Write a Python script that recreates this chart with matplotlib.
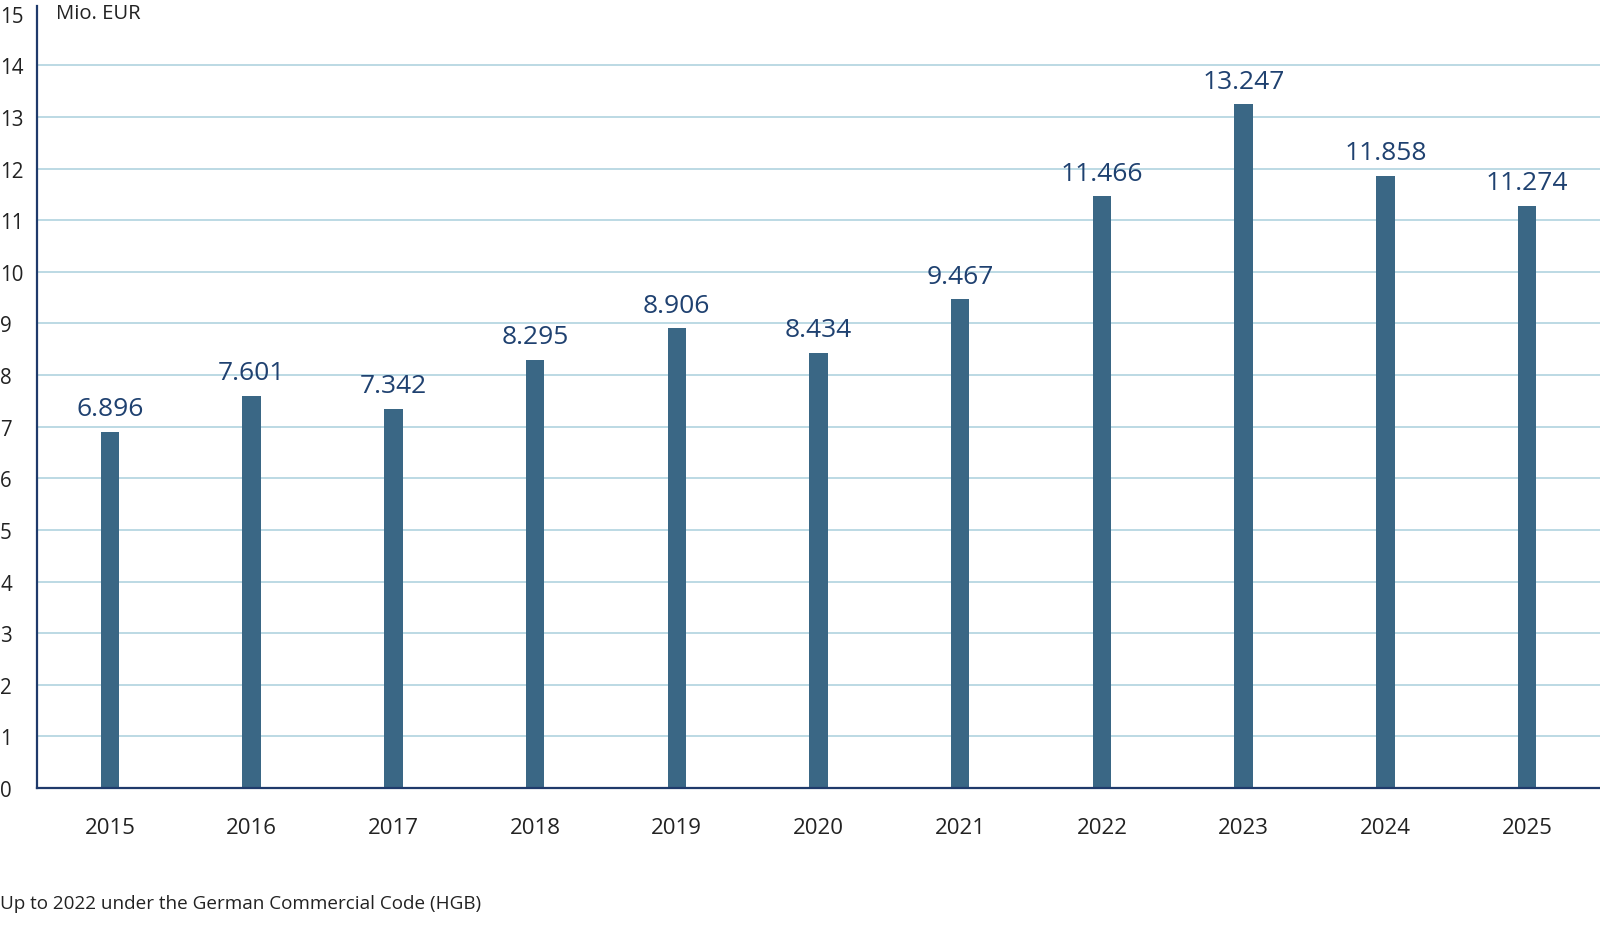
import matplotlib
matplotlib.use("Agg")
import matplotlib.pyplot as plt

years = ["2015", "2016", "2017", "2018", "2019", "2020", "2021", "2022", "2023", "2024", "2025"]
values = [6.896, 7.601, 7.342, 8.295, 8.906, 8.434, 9.467, 11.466, 13.247, 11.858, 11.274]
labels = ["6.896", "7.601", "7.342", "8.295", "8.906", "8.434", "9.467", "11.466", "13.247", "11.858", "11.274"]
yticks = list(range(0, 16))

plt.rcParams['font.family'] = ['Open Sans', 'DejaVu Sans']

fig = plt.figure(figsize=(16, 9.29), dpi=100)
ax = fig.add_axes([37/1600, 1 - 789/929, 1 - 37/1600, (789 - 14.8)/929])

x = list(range(len(years)))
ax.bar(x, values, width=0.13, color='#3a6785', zorder=3)

for xi, v, lab in zip(x, values, labels):
    ax.annotate(lab, (xi, v), xytext=(0, 12), textcoords='offset points',
                ha='center', va='baseline', fontsize=19, color='#1f4170')

ax.set_xlim(-0.515, 10.515)
ax.set_ylim(0, 15)
for g in range(1, 15):
    ax.axhline(g, color='#a9cfdc', lw=1.1, zorder=1)

ax.set_xticks(x)
ax.set_xticklabels(years, fontsize=16, color='#222222')
ax.set_yticks(yticks)
ax.set_yticklabels([str(t) for t in yticks], fontsize=14.8, color='#222222')
ax.tick_params(axis='x', length=0, pad=21)
ax.tick_params(axis='y', length=0, pad=26.6)
for t in ax.get_yticklabels():
    t.set_horizontalalignment('left')
for t in ax.get_xticklabels():
    t.set_fontstretch('expanded')

for s in ['top', 'right']:
    ax.spines[s].set_visible(False)
ax.spines['left'].set_color('#1f3a6b')
ax.spines['left'].set_linewidth(1.6)
ax.spines['bottom'].set_color('#1f3a6b')
ax.spines['bottom'].set_linewidth(1.6)
ax.spines['left'].set_bounds(0, 15.15)
ax.spines['left'].set_zorder(4)
ax.spines['bottom'].set_zorder(4)

fig.text(56/1600, 1 - 14/929, "Mio. EUR", fontsize=14.6,
         color='#222222', ha='left', va='center')

fig.text(0.0, 1 - 904/929, "Up to 2022 under the German Commercial Code (HGB)",
         fontsize=13.6, color='#222222', ha='left', va='center')

fig.savefig("out.png", dpi=100)
